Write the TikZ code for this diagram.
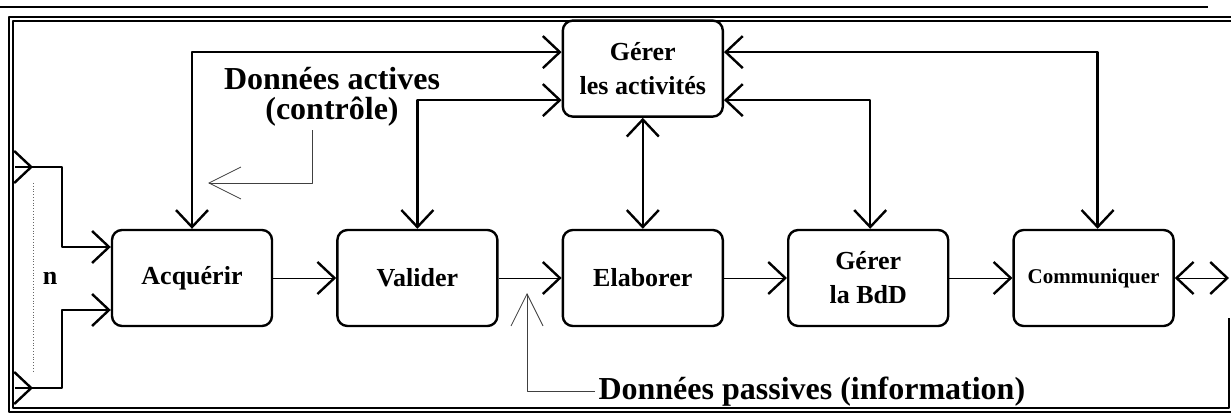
\documentclass[tikz,border=0pt]{standalone}
\usepackage{fontspec}
\setmainfont{Liberation Serif}
\usetikzlibrary{arrows.meta,calc,positioning}

\begin{document}
\begin{tikzpicture}[x=1pt,y=-1pt,line join=round,node distance=63pt,
    >={Straight Barb[length=17pt,width=32pt,line width=2.4pt 0]},
    every node/.style={align=center,font=\bfseries\fontsize{26}{34}\selectfont},
    box/.style={draw,rounded corners=10pt,line width=2.4pt,minimum width=160pt,minimum height=96pt,inner sep=2pt},
    ctrl/.style={<->,line width=2.4pt},
    flow/.style={->,line width=1pt},
    pointer/.style={-{Straight Barb[length=32pt,width=32pt,line width=0.8pt 0]},line width=0.8pt,black!75},
    frame/.style={line width=1.2pt}]
    \useasboundingbox (0,0) rectangle (1231,414);
    \draw[frame] (0,7) -- (1208,7);
    \draw[frame] (1231,17) -- (9,17) -- (9,412) -- (1231,412);
    \draw[frame] (1231,21) -- (13,21) -- (13,408) -- (1229,408) -- (1229,318);

    \node[box] (acq) at (192,278) {Acquérir};
    \node[box,right=of acq] (val) {Valider};
    \node[box,right=of val] (ela) {Elaborer};
    \node[box,right=of ela] (bdd) {Gérer\\la BdD};
    \node[box,right=of bdd,font=\bfseries\fontsize{21}{26}\selectfont] (com) {Communiquer};
    \node[box,above=111pt of ela] (gact) {Gérer\\les activités};
    \node (n) at (50,278) {n};
    \node[font=\bfseries\fontsize{32}{30}\selectfont] (act) at (332,97) {Données actives\\(contrôle)};
    \node[font=\bfseries\fontsize{32}{30}\selectfont,anchor=base west] (pas) at (595,399) {Données passives (information)};

    \coordinate (inA) at (15,167);
    \coordinate (inAtip) at (33,167);
    \coordinate (inB) at (15,388);
    \coordinate (inBtip) at (33,388);
    \coordinate (outR) at (1229,278);
    \coordinate (actip) at (208,183);
    \coordinate (pastip) at (527,293);

    \draw[->,line width=2.4pt] (inA) -- (inAtip);
    \draw[->,line width=2.4pt] (inB) -- (inBtip);
    \draw[->,line width=2.4pt] (inA) -| ($(acq.west)+(-49,-31)$) -- ($(acq.west)+(0,-31)$);
    \draw[->,line width=2.4pt] (inB) -| ($(acq.west)+(-49,32)$) -- ($(acq.west)+(0,32)$);
    \draw[dotted,black!60,line width=0.8pt] ([yshift=-16pt]inAtip) -- ([yshift=15pt]inBtip);

    \draw[flow] (acq) -- (val);
    \draw[flow] (val) -- (ela);
    \draw[flow] (ela) -- (bdd);
    \draw[flow] (bdd) -- (com);
    \draw[flow,<->] (com) -- (outR);

    \draw[ctrl] (acq.north) |- ($(gact.west)+(0,-16.5)$);
    \draw[ctrl] (val.north) |- ($(gact.west)+(0,31.5)$);
    \draw[ctrl] (ela) -- (gact);
    \draw[ctrl] ($(gact.east)+(0,-16.5)$) -| ($(com.north)+(4,0)$);
    \draw[ctrl] ($(gact.east)+(0,31.5)$) -| ($(bdd.north)+(2,0)$);

    \draw[pointer] ([xshift=-20pt]act.south) |- (actip);
    \draw[pointer] (pas.west) -| (pastip);
  \end{tikzpicture}
\end{document}
